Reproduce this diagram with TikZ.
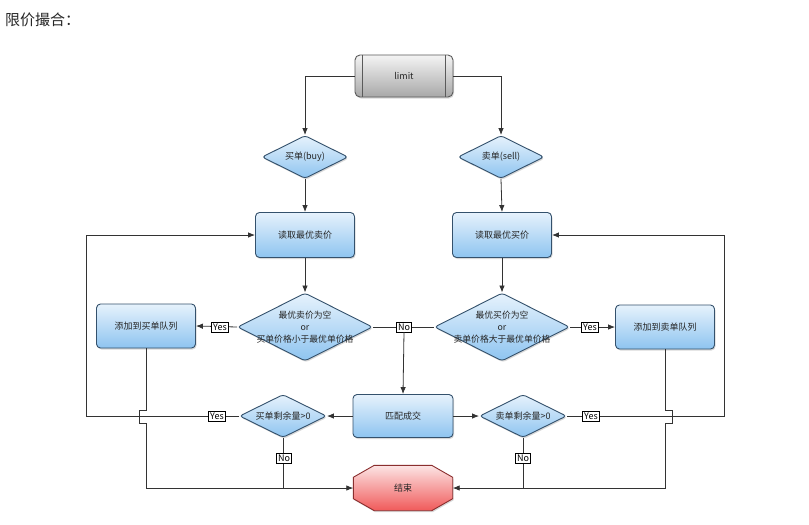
\documentclass[tikz,border=0pt]{standalone}
\usepackage{fontspec}
\setmainfont{Noto Sans CJK SC}
\usetikzlibrary{shapes.geometric,arrows.meta,calc,shadows}
\definecolor{bxtop}{HTML}{E6F2FC}
\definecolor{bxbot}{HTML}{8EC4F0}
\definecolor{bxline}{HTML}{34516C}
\definecolor{rdtop}{HTML}{FCE4E4}
\definecolor{rdbot}{HTML}{F05A5A}
\definecolor{rdline}{HTML}{8A2E2E}
\definecolor{gytop}{HTML}{F4F4F4}
\definecolor{gybot}{HTML}{A8A8A8}
\definecolor{gyline}{HTML}{5A5A5A}
\definecolor{txt}{HTML}{262626}
\definecolor{lnc}{HTML}{333333}
\pgfdeclarelayer{bg}
\pgfsetlayers{bg,main}
\begin{document}
\begin{tikzpicture}[x=1pt,y=-1pt,
  shad/.style={drop shadow={shadow xshift=1pt,shadow yshift=-1.5pt,opacity=0.3}},
  box/.style={rectangle, rounded corners=4pt, draw=bxline, line width=0.9pt,
    top color=bxtop, bottom color=bxbot, minimum width=99pt, minimum height=44pt,
    inner sep=0pt, font=\fontsize{9}{10}\selectfont, text=txt, shad},
  dia/.style={diamond, aspect=2, rounded corners=3pt, draw=bxline, line width=0.9pt,
    top color=bxtop, bottom color=bxbot, inner sep=0pt,
    font=\fontsize{9}{10}\selectfont, text=txt, shad},
  dtext/.style={align=center, font=\fontsize{8.8}{12}\selectfont, text=txt, inner sep=0pt},
  lab/.style={draw=black, line width=0.5pt, fill=white, inner sep=1.6pt,
    font=\fontsize{9}{9}\selectfont, text=black},
  con/.style={draw=lnc, line width=0.8pt},
  arr/.style={con, -{Latex[length=7pt,width=5.5pt]}}
]
\begin{pgfonlayer}{bg}
\fill[white] (0,0) rectangle (809,525);
\end{pgfonlayer}
\useasboundingbox (0,0) rectangle (809,525);

\node[anchor=west, font=\fontsize{15}{16}\selectfont, text=black!85, inner sep=0pt] (title) at (5,20) {限价撮合：};

% limit
\node[rectangle, rounded corners=5pt, draw=gyline, line width=0.9pt, top color=gytop,
  bottom color=gybot, minimum width=98pt, minimum height=42pt, inner sep=0pt,
  font=\fontsize{9}{10}\selectfont, text=txt, shad] (limit) at (404,76) {limit};
\draw[gyline, line width=0.6pt] ([xshift=8pt]limit.north west) -- ([xshift=8pt]limit.south west);
\draw[gyline, line width=0.6pt] ([xshift=-8pt]limit.north east) -- ([xshift=-8pt]limit.south east);

% first diamonds
\node[dia, minimum width=86pt, minimum height=43pt] (buy) at (305,157) {买单(buy)};
\node[dia, minimum width=86pt, minimum height=43pt] (sell) at (501,157) {卖单(sell)};

% read boxes
\node[box, minimum height=45pt] (rb) at (305,235) {读取最优卖价};
\node[box, minimum height=45pt] (rs) at (502,235) {读取最优买价};

% condition diamonds
\node[dia, minimum width=135pt, minimum height=68pt] (cb) at (305,327) {};
\node[dtext] (cbt) at (305,327) {最优卖价为空\\or\\买单价格小于最优单价格};
\node[dia, minimum width=135pt, minimum height=68pt] (cs) at (502,327) {};
\node[dtext] (cst) at (502,327) {最优买价为空\\or\\卖单价格大于最优单价格};

% add boxes
\node[box] (addb) at (146,326) {添加到买单队列};
\node[box] (adds) at (665,327) {添加到卖单队列};

% match
\node[box, minimum width=100pt, minimum height=43pt] (match) at (403,416) {匹配成交};

% remain diamonds
\node[dia, minimum width=87pt, minimum height=43pt] (rmb) at (283,416) {买单剩余量>0};
\node[dia, minimum width=87pt, minimum height=43pt] (rms) at (523,416) {卖单剩余量>0};

% end
\node[minimum width=99pt, minimum height=45pt, inner sep=0pt,
  font=\fontsize{9}{10}\selectfont, text=txt] (end) at (403,488) {结束};
\begin{pgfonlayer}{bg}
\path[draw=rdline, line width=0.9pt, top color=rdtop, bottom color=rdbot, shad]
  ($(end.north west)+(21,0)$) -- ($(end.north east)+(-21,0)$) --
  ($(end.north east)+(0,12)$) -- ($(end.south east)+(0,-12)$) --
  ($(end.south east)+(-21,0)$) -- ($(end.south west)+(21,0)$) --
  ($(end.south west)+(0,-12)$) -- ($(end.north west)+(0,12)$) -- cycle;
\end{pgfonlayer}

% connectors
\draw[arr] (limit.west) -| (buy.north);
\draw[arr] (limit.east) -| (sell.north);
\draw[arr] (buy.south) -- (rb.north);
\draw[arr] (sell.south) -- (rs.north);
\draw[arr] (rb.south) -- (cb.north);
\draw[arr] (rs.south) -- (cs.north);

\draw[arr] (cb.west) -- (addb.east);
\node[lab] (y1) at (220,327) {Yes};
\draw[arr] (cs.east) -- (adds.west);
\node[lab] (y2) at (590,327) {Yes};

\draw[con] (cb.east) -- (cs.west);
\node[lab] (n0) at (404,327) {No};
\draw[arr] (n0.south) -- (match.north);

\draw[arr] (match.west) -- (rmb.east);
\draw[arr] (match.east) -- (rms.west);

\coordinate (lc) at (86,416);
\coordinate (rc) at (724,416);
\draw[arr] (rmb.west) -- (lc) |- (rb.west);
\draw[arr] (rms.east) -- (rc) |- (rs.east);
\node[lab] (y3) at (217,416) {Yes};
\node[lab] (y4) at (591,416) {Yes};

\draw[arr] (addb.south) -- ++(0,62) -- ++(-7,0) -- ++(0,13) -- ++(7,0) |- (end.west);
\draw[arr] (adds.south) -- ++(0,61) -- ++(7,0) -- ++(0,13) -- ++(-7,0) |- (end.east);

\draw[con] (rmb.south) -- (rmb.south |- end.west);
\draw[con] (rms.south) -- (rms.south |- end.east);
\node[lab] (n1) at (284,458) {No};
\node[lab] (n2) at (523,458) {No};
\end{tikzpicture}
\end{document}
